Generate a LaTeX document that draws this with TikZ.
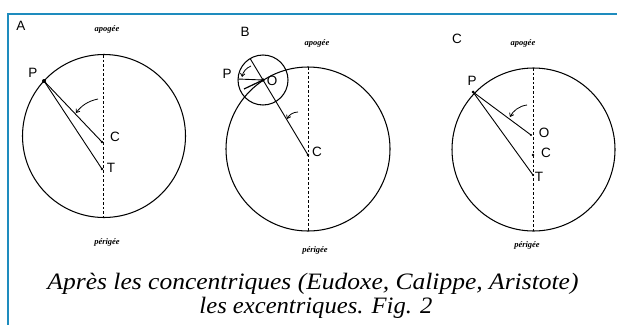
\documentclass[tikz,border=0pt]{standalone}
\usepackage{fontspec}
\setmainfont{Liberation Serif}
\newfontfamily\handfont{Liberation Sans}
\usetikzlibrary{arrows.meta,calc}
\definecolor{frameblue}{RGB}{30,140,190}
\begin{document}
\begin{tikzpicture}[x=1pt,y=-1pt,
  orb/.style={line width=1.05pt},
  axisline/.style={line width=1pt, dash pattern=on 2.6pt off 2pt},
  ray/.style={line width=0.9pt},
  pt/.style={fill=black},
  lab/.style={font=\handfont\fontsize{13.5}{14}\selectfont, inner sep=0pt},
  apo/.style={font=\bfseries\itshape\fontsize{8.5}{9}\selectfont, inner sep=0pt},
  sweep/.style={line width=0.8pt, -{Straight Barb[length=3pt,width=4.5pt]}},
  capline/.style={font=\itshape\fontsize{23.5}{26}\selectfont, inner sep=0pt, anchor=base},
]
\useasboundingbox (0,0) rectangle (617,324);
\fill[white] (0,0) rectangle (617,324);
\draw[frameblue, line width=2.6pt] (8,330) -- (8,14) -- (625,14);

% ---------- Panel A ----------
\coordinate (Acen) at (104,136);
\draw[orb] (Acen) circle[radius=81.5];
\coordinate (Atop) at (103,55);
\coordinate (Abot) at (103,217);
\draw[axisline] (Atop) -- (Abot);
\coordinate (AP) at (44,81);
\coordinate (AC) at (102,142);
\coordinate (AT) at (102,169);
\draw[ray] (AP) -- (AC);
\draw[ray] (AP) -- (AT);
\fill[pt] (AP) circle[radius=2];
\fill[pt] (AC) circle[radius=1.3];
\fill[pt] (AT) circle[radius=1.3];
\coordinate (Aa1) at (98,99);
\coordinate (Aa2) at (76,113);
\draw[sweep] (Aa1) .. controls (88,101) and (81,106) .. (Aa2);
\node[lab] (ApA) at (21,26) {A};
\node[apo] (AapoA) at (107,29) {apogée};
\node[apo] (AperA) at (107,242) {périgée};
\node[lab] (AlP) at (33,73) {P};
\node[lab] (AlC) at (115,137) {C};
\node[lab] (AlT) at (111,168) {T};

% ---------- Panel B ----------
\coordinate (Bcen) at (308,149);
\draw[orb] (Bcen) circle[radius=82];
\coordinate (Btop) at (308,67);
\coordinate (Bbot) at (308,231);
\draw[axisline] (Btop) -- (Bbot);
\coordinate (BC) at (308,155);
\coordinate (BO) at (263,80);
\draw[orb] (BO) circle[radius=25];
\coordinate (BP) at (238,79);
\coordinate (BE) at ($(BO)!-25pt!(BC)$);
\coordinate (BQ) at (244,89);
\draw[ray] (BE) -- (BC);
\draw[ray] (BP) -- (BO);
\draw[line width=1.2pt] (BO) -- (BQ);
\fill[pt] (BO) circle[radius=1.8];
\fill[pt] (BC) circle[radius=1.3];
\coordinate (Ba1) at (251,66);
\coordinate (Ba2) at (242,77);
\draw[sweep] (Ba1) .. controls (246,68) and (243,72) .. (Ba2);
\coordinate (Bb1) at (298,112);
\coordinate (Bb2) at (287,119);
\draw[sweep] (Bb1) .. controls (293,112) and (289,115) .. (Bb2);
\node[lab] (BlB) at (245,32) {B};
\node[apo] (BapoB) at (317,43) {apogée};
\node[apo] (BperB) at (315,250) {périgée};
\node[lab] (BlP) at (227,74) {P};
\node[lab] (BlO) at (272,81) {O};
\node[lab] (BlC) at (317,152) {C};

% ---------- Panel C ----------
\coordinate (Ccen) at (533.5,149.5);
\draw[orb] (Ccen) circle[radius=81.5];
\coordinate (Ctop) at (533,68);
\coordinate (Cbot) at (533,231);
\draw[axisline] (Ctop) -- (Cbot);
\coordinate (CP) at (473,92);
\coordinate (CO) at (531,135);
\coordinate (CC) at (533,155);
\coordinate (CT) at (533,175);
\draw[ray] (CP) -- (CO);
\draw[ray] (CP) -- (CT);
\fill[pt] (CP) circle[radius=1.5];
\fill[pt] (CO) circle[radius=1.2];
\fill[pt] (CC) circle[radius=1.3];
\fill[pt] (CT) circle[radius=1.2];
\coordinate (Ca1) at (527,105);
\coordinate (Ca2) at (510,117);
\draw[sweep] (Ca1) .. controls (519,106) and (513,111) .. (Ca2);
\node[lab] (ClC) at (457,39) {C};
\node[apo] (CapoC) at (523,43) {apogée};
\node[apo] (CperC) at (527,245) {périgée};
\node[lab] (ClP) at (472,81) {P};
\node[lab] (ClO) at (544,133) {O};
\node[lab] (ClCc) at (546,153) {C};
\node[lab] (ClT) at (539,177) {T};

% ---------- Caption ----------
\node[capline] (cap1) at (313,289) {\resizebox{531pt}{\height}{Après les concentriques (Eudoxe, Calippe, Aristote)}};
\node[capline] (cap2) at (316,313) {\resizebox{233pt}{\height}{les excentriques. Fig. 2}};
\end{tikzpicture}
\end{document}
